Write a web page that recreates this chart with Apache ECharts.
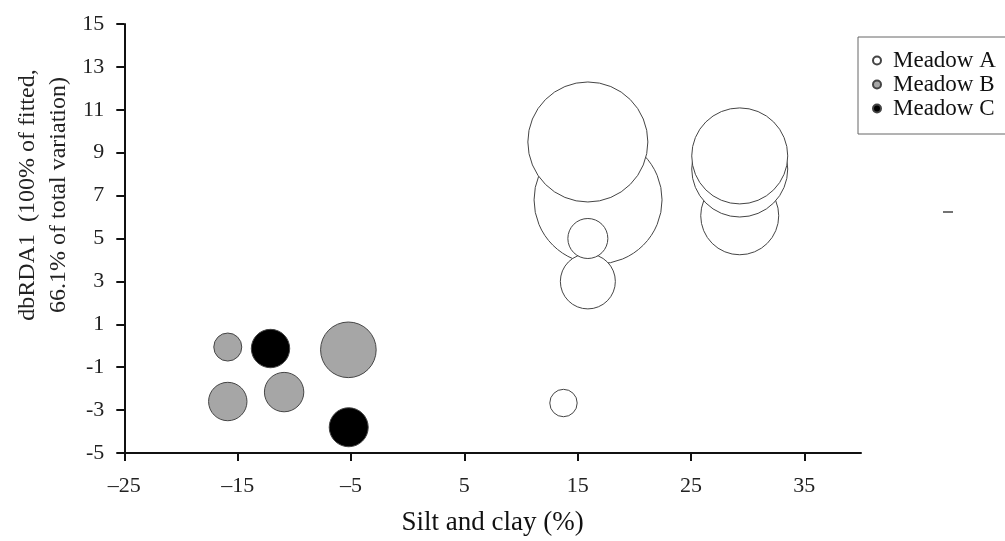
<!DOCTYPE html>
<html lang="en">
<head>
    <meta charset="UTF-8">
    <title>dbRDA1 vs silt and clay</title>
    <script src="https://cdn.jsdelivr.net/npm/echarts@6/dist/echarts.min.js"></script>
    <style>
        html, body { margin: 0; padding: 0; background: #fff; }
        #main { width: 1005px; height: 541px; }
    </style>
</head>
<body>
<div id="main"></div>
<script>
    // [silt and clay, dbRDA1, bubble size]
    const meadowA = [
        [16.8, 6.8, 64], [15.9, 3.0, 27.5], [15.9, 5.0, 20], [15.9, 9.5, 60],
        [29.3, 6.06, 39], [29.3, 8.24, 48], [29.3, 8.85, 48], [13.75, -2.67, 13.7]
    ];
    const meadowB = [[-15.87, -0.06, 14], [-5.23, -0.19, 27.8], [-15.87, -2.6, 19.2], [-10.9, -2.16, 19.7]];
    const meadowC = [[-12.1, -0.13, 19.2], [-5.2, -3.8, 19.5]];
    const seriesNames = ['Meadow A', 'Meadow B', 'Meadow C'];
    const xTicks = [-25, -15, -5, 5, 15, 25, 35];
    const yTicks = [-5, -3, -1, 1, 3, 5, 7, 9, 11, 13, 15];

    const font = 'Liberation Serif';
    let myChart = echarts.init(document.getElementById('main'));

    function bubble(name, data, fill) {
        return {
            name: name,
            type: 'scatter',
            data: data,
            symbolSize: function (v) { return v[2] * 2; },
            itemStyle: { color: fill, borderColor: '#444', borderWidth: 1, opacity: 1 },
            emphasis: { disabled: true }
        };
    }

    let option = {
        animation: false,
        grid: { left: 124.3, right: 144, top: 24, bottom: 85 },
        legend: {
            orient: 'vertical',
            left: 858, top: 37,
            padding: [12, 20, 14, 14],
            itemGap: 1,
            itemWidth: 22, itemHeight: 8,
            icon: 'circle',
            borderColor: '#666', borderWidth: 1,
            textStyle: { fontFamily: font, fontSize: 23, lineHeight: 22, color: '#111' },
            data: seriesNames
        },
        xAxis: {
            type: 'value',
            min: -25, max: 40,
            name: 'Silt and clay (%)',
            nameLocation: 'middle',
            nameGap: 56,
            nameTextStyle: { fontFamily: font, fontSize: 27, color: '#111' },
            axisLine: { onZero: false, lineStyle: { color: '#111', width: 2 } },
            axisTick: { customValues: xTicks, length: 8, lineStyle: { color: '#111', width: 2 } },
            axisLabel: {
                customValues: xTicks, margin: 22,
                fontFamily: font, fontSize: 22, color: '#222',
                formatter: function (v) { return String(v).replace('-', '\u2013'); }
            },
            splitLine: { show: false }
        },
        yAxis: {
            type: 'value',
            min: -5, max: 15,
            axisLine: { show: true, onZero: false, lineStyle: { color: '#111', width: 2 } },
            axisTick: { show: true, customValues: yTicks, length: 8, lineStyle: { color: '#111', width: 2 } },
            axisLabel: { customValues: yTicks, margin: 20, fontFamily: font, fontSize: 22, color: '#222' },
            splitLine: { show: false }
        },
        graphic: [
            {
                type: 'text',
                x: 43.5, y: 195,
                rotation: Math.PI / 2,
                style: {
                    text: 'dbRDA1  (100% of fitted,\n66.1% of total variation)',
                    font: '24px "Liberation Serif"',
                    fill: '#222',
                    lineHeight: 31,
                    align: 'center',
                    verticalAlign: 'middle'
                }
            },
            {
                type: 'line',
                shape: { x1: 943, y1: 212, x2: 953, y2: 212 },
                style: { stroke: '#444', lineWidth: 1.5 }
            }
        ],
        series: [
            bubble(seriesNames[0], meadowA, '#ffffff'),
            bubble(seriesNames[1], meadowB, '#a6a6a6'),
            bubble(seriesNames[2], meadowC, '#000000')
        ]
    };
    myChart.setOption(option);
</script>
</body>
</html>
